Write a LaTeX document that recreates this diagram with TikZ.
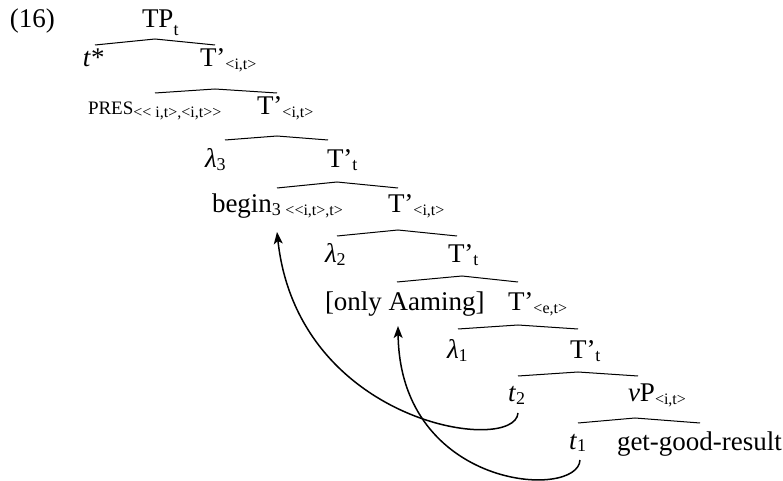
\documentclass[tikz,border=0pt]{standalone}
\usepackage{fontspec}
\setmainfont{Liberation Serif}
\usetikzlibrary{arrows.meta}
\newcommand\sbs[1]{\raisebox{-1.5pt}{\fontsize{8}{9}\selectfont #1}}
\newcommand\sbt[1]{\raisebox{-1.5pt}{\fontsize{9}{10}\selectfont #1}}
\newcommand\sbtp[1]{\raisebox{-4pt}{\fontsize{9}{10}\selectfont #1}}
\tikzset{
  lab/.style={anchor=base west, inner sep=0pt, outer sep=0pt, font=\fontsize{13.5}{15}\selectfont},
  branch/.style={line width=0.5pt},
  move/.style={line width=0.75pt, -{Stealth[length=6pt,width=4.5pt,inset=1.5pt]}},
}
\begin{document}
\begin{tikzpicture}[x=0.5pt,y=-0.5pt]
\useasboundingbox (0,0) rectangle (783,481);
% labels
\node[lab] (n16) at (10,28) {(16)};
\node[lab] (tp) at (142,28) {TP\sbtp{t}};
\node[lab] (tstar) at (83,67) {\textit{t}*};
\node[lab] (t1r) at (200,67) {T’\sbs{<i,t>}};
\node[lab] (pres) at (88,115) {{\fontsize{9.5}{11}\selectfont PRES}\sbs{<{}< i,t>,<i,t>{}>}};
\node[lab] (t2r) at (257,115) {T’\sbs{<i,t>}};
\node[lab] (lam3) at (205,168) {\textit{λ}\sbt{3}};
\node[lab] (t3r) at (327,168) {T’\sbt{t}};
\node[lab] (begin) at (212,213) {begin\sbt{3}\,\sbs{<{}<i,t>,t>}};
\node[lab] (t4r) at (388,213) {T’\sbs{<i,t>}};
\node[lab] (lam2) at (325,263) {\textit{λ}\sbt{2}};
\node[lab] (t5r) at (448,263) {T’\sbt{t}};
\node[lab] (only) at (325,311) {[only Aaming]};
\node[lab] (t6r) at (508,311) {T’\sbs{<e,t>}};
\node[lab] (lam1) at (447,358) {\textit{λ}\sbt{1}};
\node[lab] (t7r) at (570,358) {T’\sbt{t}};
\node[lab] (tt2) at (508,401) {\textit{t}\sbt{2}};
\node[lab] (vp) at (628,401) {\textit{ν}P\sbs{<i,t>}};
\node[lab] (tt1) at (569,449) {\textit{t}\sbt{1}};
\node[lab] (ggr) at (617,450) {get-good-result};
% branch points
\coordinate (b1l) at (95,45);  \coordinate (b1a) at (155,39); \coordinate (b1r) at (215,45);
\coordinate (b2l) at (155,93); \coordinate (b2a) at (215,89); \coordinate (b2r) at (277,93);
\coordinate (b3l) at (225,140); \coordinate (b3a) at (277,136); \coordinate (b3r) at (328,140);
\coordinate (b4l) at (277,188); \coordinate (b4a) at (337,182); \coordinate (b4r) at (398,188);
\coordinate (b5l) at (337,236); \coordinate (b5a) at (398,230); \coordinate (b5r) at (457,236);
\coordinate (b6l) at (397,282); \coordinate (b6a) at (462,276); \coordinate (b6r) at (518,282);
\coordinate (b7l) at (458,329); \coordinate (b7a) at (518,325); \coordinate (b7r) at (578,329);
\coordinate (b8l) at (518,376); \coordinate (b8a) at (578,372); \coordinate (b8r) at (638,376);
\coordinate (b9l) at (578,423); \coordinate (b9a) at (635,418); \coordinate (b9r) at (700,423);
\foreach \i in {1,...,9}{\draw[branch] (b\i l) -- (b\i a) -- (b\i r);}
% movement arrows
\coordinate (m1s) at (518,413); \coordinate (m1e) at (277,232);
\coordinate (m2s) at (580,460); \coordinate (m2e) at (398,326);
\draw[move] (m1s) .. controls (515,455) and (298,425) .. (m1e);
\draw[move] (m2s) .. controls (578,500) and (400,490) .. (m2e);
\end{tikzpicture}
\end{document}
